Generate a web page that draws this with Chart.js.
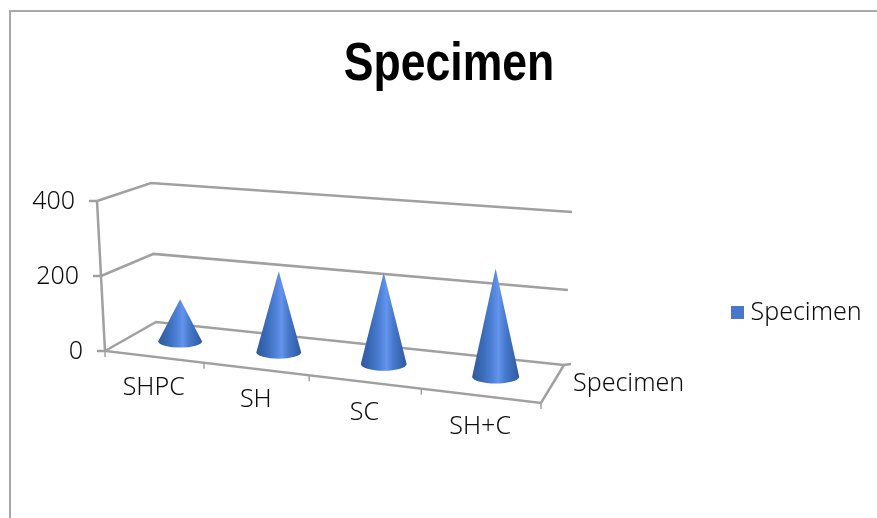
<!DOCTYPE html>
<html>
<head>
<meta charset="utf-8">
<script src="https://cdn.jsdelivr.net/npm/chart.js@4"></script>
<style>html,body{margin:0;padding:0;background:#fff}canvas{display:block}</style>
</head>
<body>
<canvas id="c" width="877" height="518"></canvas>
<script>
const chartTitle = "Specimen";
const categories = ["SHPC", "SH", "SC", "SH+C"];
const seriesName = "Specimen";
const seriesValues = [112, 216, 243, 288];
const yTicks = [0, 200, 400];

const FONT = '"Noto Sans"';
const TEXT_FONT = '300 25px ' + FONT;
const TXT = '#0c0c0c', LINE = '#a0a0a0';

// 3-D box of the plot, in canvas space
const box = {
  fl: [105, 351], fr: [541, 403],   // floor, front edge
  bl: [156, 322], br: [564, 365],   // floor, back edge
  topF: [97, 201], topB: [151, 183], topR: [572, 212]  // top of the walls
};
const lerp = (a, b, k) => [a[0] + (b[0] - a[0]) * k, a[1] + (b[1] - a[1]) * k];
// perspective along the category axis
const persp = s => 0.881 * s / (1 - 0.119 * s);
const floorPt = (s, d) => {
  const t = persp(s);
  return lerp(lerp(box.fl, box.fr, t), lerp(box.bl, box.br, t), d);
};

function line(ctx, pts) {
  ctx.beginPath();
  pts.forEach((p, i) => i ? ctx.lineTo(p[0], p[1]) : ctx.moveTo(p[0], p[1]));
  ctx.stroke();
}

function drawCone(ctx, cx, baseY, topY, rx) {
  const ry = rx * 0.29;
  const g = ctx.createLinearGradient(cx - rx, 0, cx + rx, 0);
  g.addColorStop(0, '#2f5a9c');
  g.addColorStop(0.22, '#3a6bb9');
  g.addColorStop(0.42, '#4d80d6');
  g.addColorStop(0.56, '#6494ec');
  g.addColorStop(0.72, '#4577cb');
  g.addColorStop(1, '#2f5a9e');
  ctx.beginPath();
  ctx.moveTo(cx, topY);
  ctx.lineTo(cx + rx, baseY);
  ctx.ellipse(cx, baseY, rx, ry, 0, 0, Math.PI);
  ctx.closePath();
  ctx.fillStyle = g;
  ctx.fill();
}

const icon = document.createElement('canvas');
icon.width = 13; icon.height = 13;
{ const c = icon.getContext('2d'); c.fillStyle = '#4a76cb'; c.fillRect(0, 0, 13, 13); }

const scene = {
  id: 'scene',
  afterLayout(chart) {
    const l = chart.legend;
    const w = l.right - l.left;
    l.left = 727; l.right = 727 + w;
    const h = l.bottom - l.top;
    l.top = 290; l.bottom = 290 + h;
    const t = chart.titleBlock;
    const tw = t.right - t.left;
    t.left = 449 - tw / 2; t.right = 449 + tw / 2;
    // the title face is a narrow one: squeeze the bold sans around its centre
    if (!t._narrow) {
      t._narrow = true;
      const draw = t.draw;
      t.draw = function () {
        const c = this.ctx;
        c.save();
        c.translate(449, 0); c.scale(0.825, 1); c.translate(-449, 0);
        draw.call(this);
        c.restore();
      };
    }
  },
  beforeDraw(chart) {
    const ctx = chart.ctx, y = chart.scales.y, x = chart.scales.x;
    ctx.save();
    // outer frame
    ctx.strokeStyle = '#a8a8a8'; ctx.lineWidth = 2;
    line(ctx, [[10, 518], [10, 11], [877, 11]]);

    ctx.strokeStyle = LINE; ctx.lineWidth = 2.5; ctx.lineCap = 'butt';
    const y0 = y.getPixelForValue(y.min), y1 = y.getPixelForValue(y.max);
    // wall grid lines and value labels
    ctx.font = TEXT_FONT; ctx.fillStyle = TXT;
    ctx.textAlign = 'right'; ctx.textBaseline = 'middle';
    y.ticks.forEach(tk => {
      const s = (y.getPixelForValue(tk.value) - y0) / (y1 - y0);
      const back = s * (0.96 + 0.04 * s);
      const a = lerp(box.fl, box.topF, s);
      const b = lerp(box.bl, box.topB, back);
      const c = lerp(box.br, box.topR, back);
      line(ctx, [a, b, c]);
      line(ctx, [[a[0] - 8, a[1]], a]);
      ctx.fillText(tk.label, a[0] - 22, a[1] + 1);
    });
    // value axis, floor edges
    line(ctx, [box.topF, box.fl, box.fr, box.br, [box.br[0] + 7, box.br[1] - 1]]);
    // category ticks and labels
    const n = x.getLabels().length;
    ctx.lineWidth = 1.5;
    for (let i = 0; i <= n; i++) {
      const p = floorPt(i / n, 0);
      line(ctx, [p, [p[0], p[1] + 6]]);
    }
    ctx.textAlign = 'center';
    x.getLabels().forEach((lab, i) => {
      const s = (x.getPixelForValue(i) - x.left) / x.width;
      const p = floorPt(s, 0);
      ctx.fillText(lab, p[0], p[1] + 31);
    });
    // depth axis label
    ctx.textAlign = 'left';
    ctx.fillText(chart.data.datasets[0].label, 573, 384);
    ctx.restore();
  },
  beforeDatasetDraw(chart, args) {
    const ctx = chart.ctx, x = chart.scales.x;
    ctx.save();
    args.meta.data.forEach(bar => {
      const s = (bar.x - x.left) / x.width;
      const t = persp(s);
      const p = floorPt(s, 0.52);
      const rx = bar.width / 2 * (0.98 + 0.1 * t);
      const h = bar.base - bar.y;
      drawCone(ctx, p[0] + 1.5, p[1], p[1] - h, rx);
    });
    ctx.restore();
    return false;
  }
};

new Chart(document.getElementById('c'), {
  type: 'bar',
  data: {
    labels: categories,
    datasets: [{
      label: seriesName,
      data: seriesValues,
      backgroundColor: '#4a76cb',
      categoryPercentage: 0.4,
      barPercentage: 1
    }]
  },
  options: {
    responsive: false,
    animation: false,
    layout: { padding: { left: 105, right: 186, top: 0, bottom: 167 } },
    plugins: {
      title: {
        display: true,
        text: chartTitle,
        color: '#000',
        font: { family: '"Liberation Sans"', size: 54, weight: 'bold' },
        padding: { top: 33, bottom: 103 }
      },
      legend: {
        display: true,
        position: 'right',
        align: 'start',
        labels: {
          color: TXT,
          font: { family: FONT, size: 25, weight: '300' },
          usePointStyle: true,
          pointStyle: icon,
          pointStyleWidth: 1
        }
      },
      tooltip: { enabled: false }
    },
    scales: {
      x: { display: false, offset: true },
      y: { display: false, min: 0, max: 400, afterBuildTicks(ax) { ax.ticks = yTicks.map(v => ({ value: v, label: String(v) })); } }
    }
  },
  plugins: [scene]
});
</script>
</body>
</html>
